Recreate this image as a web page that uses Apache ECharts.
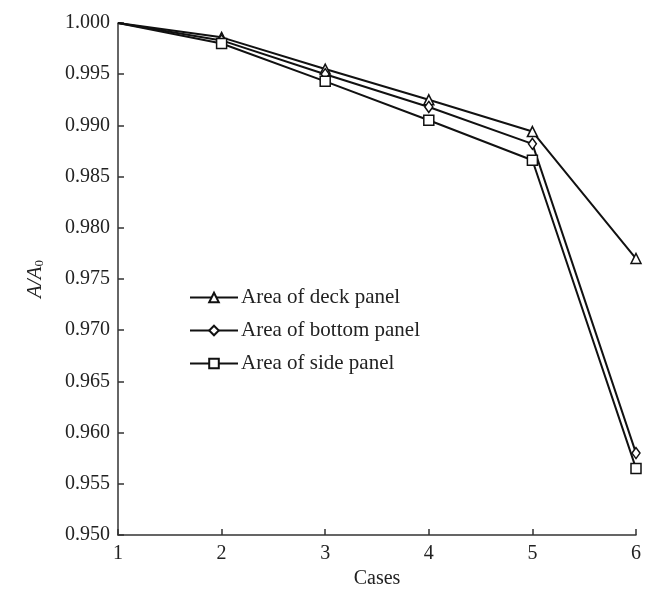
<!DOCTYPE html>
<html>
<head>
<meta charset="utf-8">
<script src="https://cdn.jsdelivr.net/npm/echarts@6/dist/echarts.min.js"></script>
<style>
  html, body { margin: 0; padding: 0; background: #fff; }
  #chart { width: 662px; height: 591px; }
</style>
</head>
<body>
<div id="chart"></div>
<script>
// 工况
const cases = [1, 2, 3, 4, 5, 6];
// 面积比 A/A0
const deckArea = [1.000, 0.9986, 0.9955, 0.9925, 0.9894, 0.9770];
const bottomArea = [1.000, 0.9983, 0.9950, 0.9918, 0.9882, 0.9580];
const sideArea = [1.000, 0.9980, 0.9943, 0.9905, 0.9866, 0.9565];
const seriesNames = ['Area of deck panel', 'Area of bottom panel', 'Area of side panel'];

const font = 'Liberation Serif, Times New Roman, serif';

// 第一个点不画标记
function toData(vals) {
  return vals.map((v, i) => i === 0 ? { value: [cases[i], v], symbol: 'none' } : [cases[i], v]);
}

function makeSeries(name, vals, symbol) {
  return {
    name: name,
    type: 'line',
    data: toData(vals),
    symbol: symbol,
    symbolSize: symbol === 'diamond' ? [8, 11] : 10,
    showSymbol: true,
    itemStyle: { color: '#fff', borderColor: '#111', borderWidth: 1.5 },
    lineStyle: { color: '#111', width: 2 },
    emphasis: { disabled: true },
    animation: false
  };
}

let myChart = echarts.init(document.getElementById('chart'));
let option = {
  backgroundColor: '#fff',
  grid: { left: 118, right: 26, top: 23, bottom: 56, outerBoundsMode: 'none', containLabel: false },
  legend: {
    orient: 'vertical',
    left: 184,
    top: 282,
    itemWidth: 48,
    itemHeight: 12,
    itemGap: 12,
    data: seriesNames,
    textStyle: { fontFamily: font, fontSize: 21, color: '#222', padding: [0, 0, 0, -2] }
  },
  xAxis: {
    type: 'value',
    min: 1,
    max: 6,
    interval: 1,
    name: 'Cases',
    nameLocation: 'middle',
    nameGap: 34,
    nameTextStyle: { fontFamily: font, fontSize: 20, color: '#222' },
    axisLine: { lineStyle: { color: '#333', width: 1.5 } },
    axisTick: { inside: true, length: 6, lineStyle: { color: '#333', width: 1.5 } },
    axisLabel: { fontFamily: font, fontSize: 20, color: '#222', margin: 9 },
    splitLine: { show: false }
  },
  yAxis: {
    type: 'value',
    min: 0.950,
    max: 1.000,
    interval: 0.005,
    name: '{i|A/A}{s|0}',
    nameLocation: 'middle',
    nameGap: 72,
    nameRotate: 90,
    nameTextStyle: {
      rich: {
        i: { fontFamily: font, fontSize: 21, fontStyle: 'italic', color: '#222' },
        s: { fontFamily: font, fontSize: 13, color: '#222', verticalAlign: 'bottom', padding: [9, 0, 0, 0] }
      }
    },
    axisLine: { show: true, lineStyle: { color: '#333', width: 1.5 } },
    axisTick: { show: true, inside: true, length: 6, lineStyle: { color: '#333', width: 1.5 } },
    axisLabel: {
      fontFamily: font, fontSize: 20, color: '#222', margin: 8,
      formatter: v => v.toFixed(3)
    },
    splitLine: { show: false }
  },
  series: [
    makeSeries(seriesNames[0], deckArea, 'triangle'),
    makeSeries(seriesNames[1], bottomArea, 'diamond'),
    makeSeries(seriesNames[2], sideArea, 'rect')
  ]
};
myChart.setOption(option);
</script>
</body>
</html>
